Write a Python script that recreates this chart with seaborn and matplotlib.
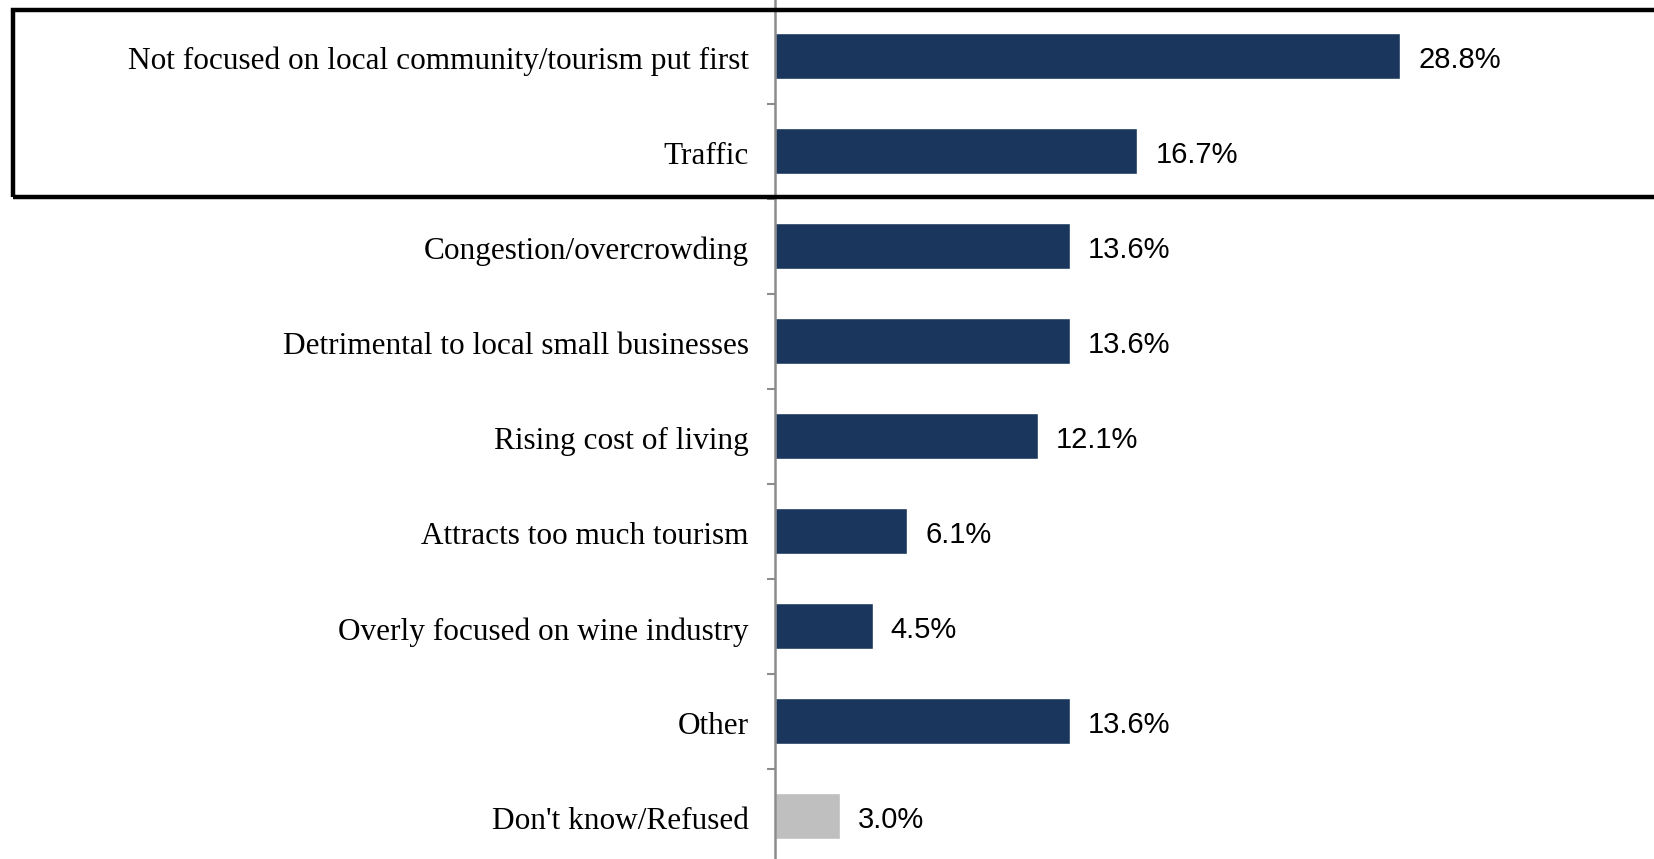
import matplotlib
matplotlib.use("Agg")
import matplotlib.pyplot as plt
import matplotlib.transforms as mtransforms
import seaborn as sns
import pandas as pd
from matplotlib.patches import Rectangle

# dati
categories = [
    "Not focused on local community/tourism put first",
    "Traffic",
    "Congestion/overcrowding",
    "Detrimental to local small businesses",
    "Rising cost of living",
    "Attracts too much tourism",
    "Overly focused on wine industry",
    "Other",
    "Don't know/Refused",
]
values = [28.8, 16.7, 13.6, 13.6, 12.1, 6.1, 4.5, 13.6, 3.0]
bar_colors = ["#1B365D"] * 8 + ["#BFBFBF"]

df = pd.DataFrame({"cat": categories, "val": values})

sns.set_style("white")

W, H = 1654, 859
fig = plt.figure(figsize=(W / 100, H / 100), dpi=100)
x0 = 775 / W
ax = fig.add_axes([x0, 0, 1 - x0, 1])

sns.barplot(data=df, x="val", y="cat", hue="cat", palette=bar_colors,
            legend=False, orient="h", width=0.485, ax=ax, saturation=1)

ax.set_xlim(0, 40.5)
ax.set_ylim(8.45, -0.59)
ax.set_xlabel("")
ax.set_ylabel("")
ax.set_xticks([])

# etichette categorie
ax.set_yticks(range(len(categories)))
ax.set_yticklabels(categories, fontfamily="Liberation Serif", fontsize=22.5,
                   color="black")
ax.tick_params(axis="y", which="major", left=False, length=0, pad=19)
ax.set_yticks([i + 0.5 for i in range(len(categories) - 1)], minor=True)
ax.tick_params(axis="y", which="minor", left=True, length=6, width=1.5,
               color="#8C8C8C", direction="out")

# piccolo spostamento verso il basso delle etichette
down = mtransforms.ScaledTranslation(0, -1.5 / 72, fig.dpi_scale_trans)
for t in ax.get_yticklabels():
    t.set_transform(t.get_transform() + down)

for s in ["top", "right", "bottom"]:
    ax.spines[s].set_visible(False)
ax.spines["left"].set_color("#8C8C8C")
ax.spines["left"].set_linewidth(1.8)

# valori
for cont in ax.containers:
    for txt in ax.bar_label(cont, fmt="%.1f%%", padding=13, fontsize=21,
                            fontfamily="Liberation Sans", color="black"):
        txt.xyann = (13, -2.5)

# riquadro evidenziato
fig.patches.append(Rectangle((13 / W, 1 - 197 / H), 1.0, 187 / H,
                             transform=fig.transFigure, fill=False,
                             edgecolor="black", linewidth=3.2, zorder=10))

fig.savefig("out.png", dpi=100)
